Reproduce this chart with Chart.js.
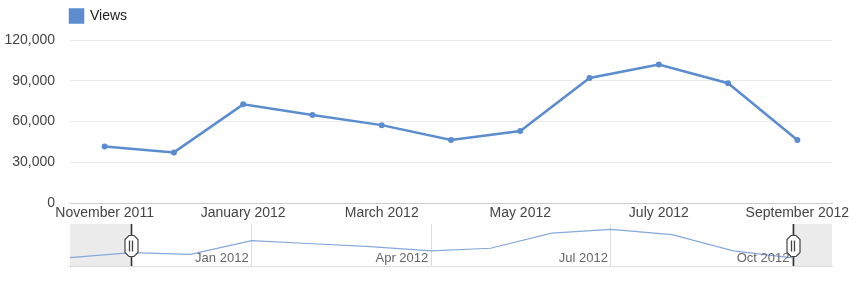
<!DOCTYPE html>
<html>
<head>
<meta charset="utf-8">
<script src="https://cdn.jsdelivr.net/npm/chart.js@4/dist/chart.umd.min.js"></script>
<style>
  html, body { margin: 0; padding: 0; background: #fff; }
  #wrap { position: relative; width: 853px; height: 283px; overflow: hidden; }
  #main { position: absolute; left: 0; top: 0; }
  #nav { position: absolute; left: 0; top: 218px; }
</style>
</head>
<body>
<div id="wrap">
  <canvas id="main" width="853" height="227"></canvas>
  <canvas id="nav" width="853" height="65"></canvas>
</div>
<script>
// ---- data ----
const months = ['October 2011', 'November 2011', 'December 2011', 'January 2012', 'February 2012',
  'March 2012', 'April 2012', 'May 2012', 'June 2012', 'July 2012', 'August 2012',
  'September 2012', 'October 2012'];
const views = [28700, 41700, 37300, 72700, 64800, 57400, 46400, 53000, 92200, 102100, 88300, 46400, 28000];
// visible window of the main chart (month indexes, inclusive)
const windowStart = 1;   // November 2011
const windowEnd = 11;    // September 2012
const mainTickLabels = ['November 2011', 'January 2012', 'March 2012', 'May 2012', 'July 2012', 'September 2012'];
const yTicks = [0, 30000, 60000, 90000, 120000];
const navTickIdx = [3, 6, 9, 12];
const navTickLabels = ['Jan 2012', 'Apr 2012', 'Jul 2012', 'Oct 2012'];

const mainLabels = months.slice(windowStart, windowEnd + 1);
const mainViews = views.slice(windowStart, windowEnd + 1);
// navigator x positions: days since the first month start (time axis)
const dayOf = i => (Date.UTC(2011, 9 + i, 1) - Date.UTC(2011, 9, 1)) / 864e5;

const BLUE = '#5b8dce';
const NAVBLUE = '#86a8da';
const FONT = "'Liberation Sans', Arial, Helvetica, sans-serif";
Chart.defaults.font.family = FONT;

const legendShift = {
  id: 'legendShift',
  afterLayout(chart) {
    if (chart.legend) { chart.legend.left = chart.chartArea.left - 9; }
  }
};

// ---- main chart ----
new Chart(document.getElementById('main'), {
  type: 'line',
  data: {
    labels: mainLabels,
    datasets: [{
      label: 'Views',
      data: mainViews,
      borderColor: BLUE,
      backgroundColor: BLUE,
      borderWidth: 2.5,
      pointRadius: 3,
      pointHoverRadius: 3,
      pointBorderWidth: 0,
      tension: 0
    }]
  },
  options: {
    responsive: false,
    animation: false,
    events: [],
    layout: { padding: { left: 0, right: 21, top: 0, bottom: 0 } },
    plugins: {
      legend: {
        align: 'start',
        labels: {
          boxWidth: 13, boxHeight: 13, padding: 9,
          color: '#222', font: { size: 14 }
        }
      },
      title: { display: true, text: ' ', weight: 500, padding: 0, font: { size: 6 } },
      tooltip: { enabled: false }
    },
    scales: {
      x: {
        offset: true,
        grid: { display: false, drawTicks: false },
        border: { display: true, color: '#cccccc', width: 1 },
        ticks: {
          autoSkip: false, maxRotation: 0, minRotation: 0, padding: 2,
          color: '#444', font: { size: 14 },
          callback: function (v) {
            const l = this.getLabelForValue(v);
            return mainTickLabels.includes(l) ? l : '';
          }
        },
        afterFit: s => { s.height = 24; }
      },
      y: {
        min: yTicks[0], max: yTicks[yTicks.length - 1],
        afterBuildTicks: s => { s.ticks = yTicks.map(v => ({ value: v })); },
        grid: { color: '#ebebeb', drawTicks: false },
        border: { display: false },
        ticks: {
          padding: 15, color: '#444', font: { size: 14 },
          callback: v => v.toLocaleString('en-US')
        },
        afterFit: s => { s.width = 70; }
      }
    }
  },
  plugins: [legendShift]
});

// ---- navigator (range selector) ----
const rangePlugin = {
  id: 'rangeSel',
  beforeDatasetsDraw(chart) {
    const { ctx, chartArea: a, scales: { x } } = chart;
    const x0 = x.getPixelForValue(dayOf(windowStart));
    const x1 = x.getPixelForValue(dayOf(windowEnd + 1));
    ctx.save();
    ctx.fillStyle = '#ebebeb';
    ctx.fillRect(a.left, a.top, x0 - a.left, a.bottom - a.top);
    ctx.fillRect(x1, a.top, a.right - x1, a.bottom - a.top);
    ctx.restore();
  },
  afterDatasetsDraw(chart) {
    const { ctx, chartArea: a, scales: { x } } = chart;
    // tick labels inside the navigator, right-aligned to their grid lines
    ctx.save();
    ctx.font = '13px ' + FONT;
    ctx.fillStyle = '#666';
    ctx.textAlign = 'right';
    ctx.textBaseline = 'middle';
    navTickIdx.forEach((m, k) => {
      ctx.fillText(navTickLabels[k], x.getPixelForValue(dayOf(m)) - 3, a.bottom - 8);
    });
    ctx.restore();
    // selection handles
    const xs = [x.getPixelForValue(dayOf(windowStart)), x.getPixelForValue(dayOf(windowEnd + 1))];
    ctx.save();
    xs.forEach(px => {
      px = Math.round(px) + 0.5;
      ctx.strokeStyle = '#333';
      ctx.lineWidth = 1.6;
      ctx.beginPath();
      ctx.moveTo(px, a.top);
      ctx.lineTo(px, a.bottom);
      ctx.stroke();
      const w = 13, h = 21, cy = a.top + 22, r = 4;
      const l = px - w / 2, t = cy - h / 2;
      ctx.beginPath();
      ctx.moveTo(l + r, t);
      ctx.lineTo(l + w - r, t);
      ctx.lineTo(l + w, t + r);
      ctx.lineTo(l + w, t + h - r);
      ctx.lineTo(l + w - r, t + h);
      ctx.lineTo(l + r, t + h);
      ctx.lineTo(l, t + h - r);
      ctx.lineTo(l, t + r);
      ctx.closePath();
      ctx.fillStyle = '#fff';
      ctx.fill();
      ctx.lineWidth = 1.2;
      ctx.strokeStyle = '#444';
      ctx.stroke();
      ctx.lineWidth = 1.3;
      ctx.beginPath();
      ctx.moveTo(px - 2, t + 5); ctx.lineTo(px - 2, t + h - 5);
      ctx.moveTo(px + 1, t + 5); ctx.lineTo(px + 1, t + h - 5);
      ctx.stroke();
    });
    ctx.restore();
  }
};

new Chart(document.getElementById('nav'), {
  type: 'line',
  data: {
    datasets: [{
      data: views.map((v, i) => ({ x: dayOf(i), y: v })),
      borderColor: NAVBLUE,
      borderWidth: 1.2,
      pointRadius: 0,
      pointHoverRadius: 0,
      tension: 0
    }]
  },
  options: {
    responsive: false,
    animation: false,
    events: [],
    layout: { padding: { left: 70, right: 21, top: 6, bottom: 0 } },
    plugins: { legend: { display: false }, tooltip: { enabled: false } },
    scales: {
      x: {
        type: 'linear',
        min: 0, max: 386,
        afterBuildTicks: s => { s.ticks = navTickIdx.map(m => ({ value: dayOf(m) })); },
        grid: { color: '#dddddd', drawTicks: false },
        border: { display: true, color: '#dddddd' },
        ticks: { display: false },
        afterFit: s => { s.height = 17; }
      },
      y: {
        min: 7000, max: 116000,
        grid: { display: false },
        ticks: { display: false },
        border: { display: true, color: '#aaaaaa' },
        afterFit: s => { s.width = 0; }
      }
    }
  },
  plugins: [rangePlugin]
});
</script>
</body>
</html>
